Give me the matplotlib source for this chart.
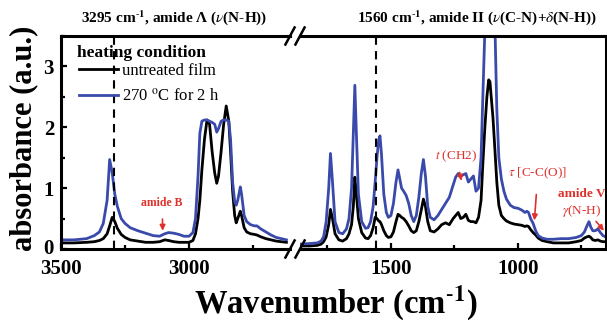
import numpy as np
import matplotlib
matplotlib.use('Agg')
import matplotlib.pyplot as plt
import matplotlib.transforms as mtransforms
from matplotlib.ticker import MultipleLocator

plt.rcParams['font.family'] = ['Liberation Serif', 'DejaVu Serif']
plt.rcParams['mathtext.fontset'] = 'stix'

BLUE = '#3a4aab'
RED = '#e0302c'

# high wavenumber region (3500 - 2620 cm-1)
wn_left = [3500, 3450, 3400, 3370, 3350, 3335, 3320, 3310, 3300, 3290, 3280, 3265, 3250,
           3230, 3200, 3170, 3140, 3115, 3095, 3080, 3060, 3040, 3020, 3000, 2985, 2975,
           2965, 2958, 2950, 2940, 2930, 2920, 2910, 2900, 2892, 2885, 2875, 2865, 2855,
           2845, 2838, 2830, 2822, 2816, 2810, 2800, 2795, 2785, 2775, 2760, 2745, 2735,
           2720, 2700, 2680, 2660, 2640, 2620]
untreated_left = [0.10, 0.10, 0.11, 0.12, 0.14, 0.17, 0.25, 0.38, 0.52, 0.45, 0.34, 0.24, 0.19,
                  0.15, 0.13, 0.11, 0.11, 0.12, 0.15, 0.14, 0.12, 0.11, 0.11, 0.11, 0.14, 0.25,
                  0.50, 0.80, 1.30, 1.80, 2.12, 2.05, 1.60, 1.25, 1.08, 1.20, 1.60, 2.05, 2.35,
                  2.10, 1.60, 0.95, 0.55, 0.43, 0.50, 0.62, 0.55, 0.35, 0.28, 0.25, 0.24, 0.23,
                  0.20, 0.17, 0.15, 0.13, 0.12, 0.11]
heated_left = [0.15, 0.15, 0.17, 0.22, 0.28, 0.42, 0.80, 1.47, 1.25, 0.90, 0.70, 0.50, 0.42,
               0.35, 0.30, 0.26, 0.22, 0.21, 0.25, 0.27, 0.26, 0.24, 0.21, 0.21, 0.27, 0.50,
               1.20, 1.90, 2.10, 2.12, 2.12, 2.10, 2.08, 2.05, 1.92, 1.98, 2.10, 2.12, 2.12,
               2.10, 1.80, 1.10, 0.78, 0.72, 0.80, 1.02, 0.90, 0.55, 0.45, 0.40, 0.38, 0.38,
               0.33, 0.28, 0.23, 0.19, 0.17, 0.15]

# fingerprint region (1860 - 650 cm-1)
wn_right = [1860, 1820, 1790, 1775, 1765, 1755, 1745, 1738, 1730, 1720, 1705, 1690, 1675,
            1665, 1655, 1648, 1642, 1636, 1628, 1615, 1600, 1590, 1580, 1570, 1562, 1555,
            1548, 1543, 1537, 1528, 1518, 1510, 1500, 1490, 1480, 1472, 1465, 1458, 1450,
            1440, 1430, 1420, 1410, 1400, 1390, 1380, 1372, 1364, 1355, 1345, 1330, 1315,
            1300, 1285, 1270, 1255, 1245, 1235, 1225, 1215, 1205, 1195, 1185, 1175, 1165,
            1155, 1145, 1138, 1130, 1122, 1115, 1110, 1105, 1098, 1090, 1083, 1075, 1065,
            1055, 1045, 1030, 1015, 1000, 985, 972, 965, 958, 950, 940, 930, 920, 905, 885,
            860, 830, 800, 770, 750, 738, 728, 720, 713, 705, 695, 685, 675, 665, 655, 650]
untreated_right = [0.05, 0.05, 0.06, 0.08, 0.12, 0.20, 0.40, 0.65, 0.50, 0.25, 0.15, 0.13, 0.17,
                   0.25, 0.40, 0.70, 1.18, 0.90, 0.50, 0.27, 0.18, 0.17, 0.22, 0.35, 0.52, 0.50,
                   0.46, 0.45, 0.40, 0.30, 0.22, 0.19, 0.20, 0.28, 0.45, 0.57, 0.55, 0.52, 0.50,
                   0.45, 0.38, 0.30, 0.27, 0.30, 0.45, 0.65, 0.82, 0.70, 0.45, 0.30, 0.28, 0.33,
                   0.40, 0.43, 0.40, 0.50, 0.55, 0.60, 0.50, 0.52, 0.57, 0.47, 0.45, 0.45, 0.43,
                   0.52, 0.80, 1.40, 2.00, 2.50, 2.78, 2.75, 2.50, 2.15, 1.60, 1.10, 0.72, 0.55,
                   0.50, 0.46, 0.43, 0.41, 0.40, 0.39, 0.37, 0.38, 0.37, 0.32, 0.27, 0.23, 0.18,
                   0.14, 0.12, 0.10, 0.10, 0.10, 0.12, 0.14, 0.18, 0.20, 0.21, 0.19, 0.15, 0.14,
                   0.15, 0.13, 0.12, 0.12, 0.12]
heated_right = [0.08, 0.09, 0.10, 0.13, 0.20, 0.45, 1.00, 1.57, 1.10, 0.45, 0.27, 0.25, 0.33,
                0.50, 1.00, 1.90, 2.69, 1.90, 0.90, 0.45, 0.34, 0.35, 0.45, 0.70, 1.10, 1.50,
                1.80, 1.86, 1.55, 0.90, 0.60, 0.52, 0.55, 0.75, 1.10, 1.30, 1.15, 1.00, 0.95,
                0.88, 0.75, 0.55, 0.45, 0.55, 0.85, 1.25, 1.47, 1.20, 0.70, 0.52, 0.48, 0.55,
                0.65, 0.75, 0.85, 1.05, 1.18, 1.24, 1.20, 1.22, 1.24, 1.10, 1.15, 1.20, 0.95,
                1.00, 1.50, 2.50, 3.60, 4.00, 4.00, 4.00, 4.00, 4.00, 3.60, 2.30, 1.50, 1.15,
                0.95, 0.82, 0.72, 0.68, 0.67, 0.64, 0.60, 0.62, 0.60, 0.50, 0.42, 0.30, 0.22,
                0.18, 0.16, 0.16, 0.17, 0.17, 0.19, 0.22, 0.28, 0.38, 0.45, 0.36, 0.30, 0.30,
                0.33, 0.27, 0.22, 0.20, 0.20]

W, H = 607, 328
fig = plt.figure(figsize=(W / 100, H / 100), dpi=100)
ax1 = fig.add_axes([61 / W, 79 / H, 229 / W, 213 / H])
ax2 = fig.add_axes([300 / W, 79 / H, 306 / W, 213 / H], sharey=ax1)

for ax, wn, ut, ht in [(ax1, wn_left, untreated_left, heated_left),
                       (ax2, wn_right, untreated_right, heated_right)]:
    ax.plot(wn, ut, color='black', lw=2, label='untreated film')
    ax.plot(wn, ht, color=BLUE, lw=2, label='270 $^{\\mathrm{o}}$C for 2 h')
    for s in ax.spines.values():
        s.set_linewidth(2.2)
    ax.tick_params(direction='in', width=1.6, length=4, labelsize=15, pad=7)
    ax.tick_params(which='minor', direction='in', width=1.6, length=3)
    for lab in ax.get_xticklabels():
        lab.set_fontweight('bold')

ax1.axvline(3295, color='black', ls=(0, (4, 3)), lw=1.5)
ax2.axvline(1560, color='black', ls=(0, (4, 3)), lw=1.5)

ax1.set_xlim(3500, 2606)
ax2.set_xlim(1858, 653)
ax1.set_ylim(0, 3.5)
for ax in (ax1, ax2):
    ax.xaxis.set_major_locator(MultipleLocator(500))
    ax.xaxis.set_minor_locator(MultipleLocator(250))
ax1.yaxis.set_minor_locator(MultipleLocator(0.5))
ax1.set_yticks([0, 1, 2, 3])
ax1.set_yticklabels(['0', '1', '2', '3'], fontweight='bold', fontsize=15)
ax1.tick_params(axis='y', pad=5)
# nudge the "0" up a little so it clears "3500"
zero = ax1.get_yticklabels()[0]
zero.set_transform(zero.get_transform() +
                   mtransforms.ScaledTranslation(0, 2 / 72, fig.dpi_scale_trans))

ax1.spines['right'].set_visible(False)
ax2.spines['left'].set_visible(False)
ax2.tick_params(axis='y', which='both', left=False, right=False, labelleft=False)

# break marks
d = 0.02
kw = dict(color='black', lw=1.8, clip_on=False)
r = 229 / 306
ax1.plot((1 - d, 1 + d), (-d * 2, d * 2), transform=ax1.transAxes, **kw)
ax1.plot((1 - d, 1 + d), (1 - d * 2, 1 + d * 2), transform=ax1.transAxes, **kw)
ax2.plot((-d * r, d * r), (-d * 2, d * 2), transform=ax2.transAxes, **kw)
ax2.plot((-d * r, d * r), (1 - d * 2, 1 + d * 2), transform=ax2.transAxes, **kw)

fig.text(24 / W, 1 - 138 / H, 'absorbance (a.u.)', rotation=90, fontsize=22,
         fontweight='bold', ha='center', va='center')
fig.text(336 / W, 1 - 303 / H, 'Wavenumber (cm$^{\\text{-}\\mathbf{1}}$)', fontsize=23.5,
         fontweight='bold', ha='center', va='center')

fig.text(174 / W, 1 - 18 / H, '3295 cm$^{\\text{-}\\mathbf{1}}$, amide \u039b ($\\nu$(N-H))',
         fontsize=11, fontweight='bold', ha='center', va='center')
fig.text(477 / W, 1 - 18 / H,
         '1560 cm$^{\\text{-}\\mathbf{1}}$, amide II ($\\nu$(C-N)+$\\delta$(N-H))',
         fontsize=11, fontweight='bold', ha='center', va='center')

ax1.text(0.07, 0.92, 'heating condition', transform=ax1.transAxes, fontsize=12.5,
         fontweight='bold', ha='left', va='center')
leg = ax1.legend(loc='upper left', bbox_to_anchor=(0.08, 0.875), frameon=False,
                 fontsize=12, handlelength=2.3, handletextpad=0.25, labelspacing=0.56,
                 borderaxespad=0, borderpad=0)
for line in leg.get_lines():
    line.set_linewidth(2)

# band annotations
ax1.annotate('amide B', xy=(3103, 0.30), xytext=(3105, 0.75), color=RED,
             fontsize=8.5, fontweight='bold', ha='center', va='center',
             arrowprops=dict(arrowstyle='-|>', color=RED, lw=1.2, mutation_scale=8,
                             shrinkA=5, shrinkB=0))
ax2.annotate('$t$ (CH2)', xy=(1222, 1.12), xytext=(1244, 1.52), color=RED,
             fontsize=9.5, ha='center', va='center',
             arrowprops=dict(arrowstyle='-|>', color=RED, lw=1.2, mutation_scale=8,
                             shrinkA=4, shrinkB=0))
ax2.annotate('$\\tau$ [C-C(O)]', xy=(935, 0.47), xytext=(921, 1.25), color=RED,
             fontsize=9.5, ha='center', va='center',
             arrowprops=dict(arrowstyle='-|>', color=RED, lw=1.2, mutation_scale=8,
                             shrinkA=8, shrinkB=0))
ax2.text(750, 0.9, 'amide V', color=RED, fontsize=9.5, fontweight='bold',
         ha='center', va='center')
ax2.annotate('$\\gamma$(N-H)', xy=(661, 0.30), xytext=(748, 0.63), color=RED,
             fontsize=9.5, ha='center', va='center',
             arrowprops=dict(arrowstyle='-|>', color=RED, lw=1.2, mutation_scale=8,
                             shrinkA=0, shrinkB=0, relpos=(0.8, 0.0)))

fig.savefig('out.png', dpi=100)
